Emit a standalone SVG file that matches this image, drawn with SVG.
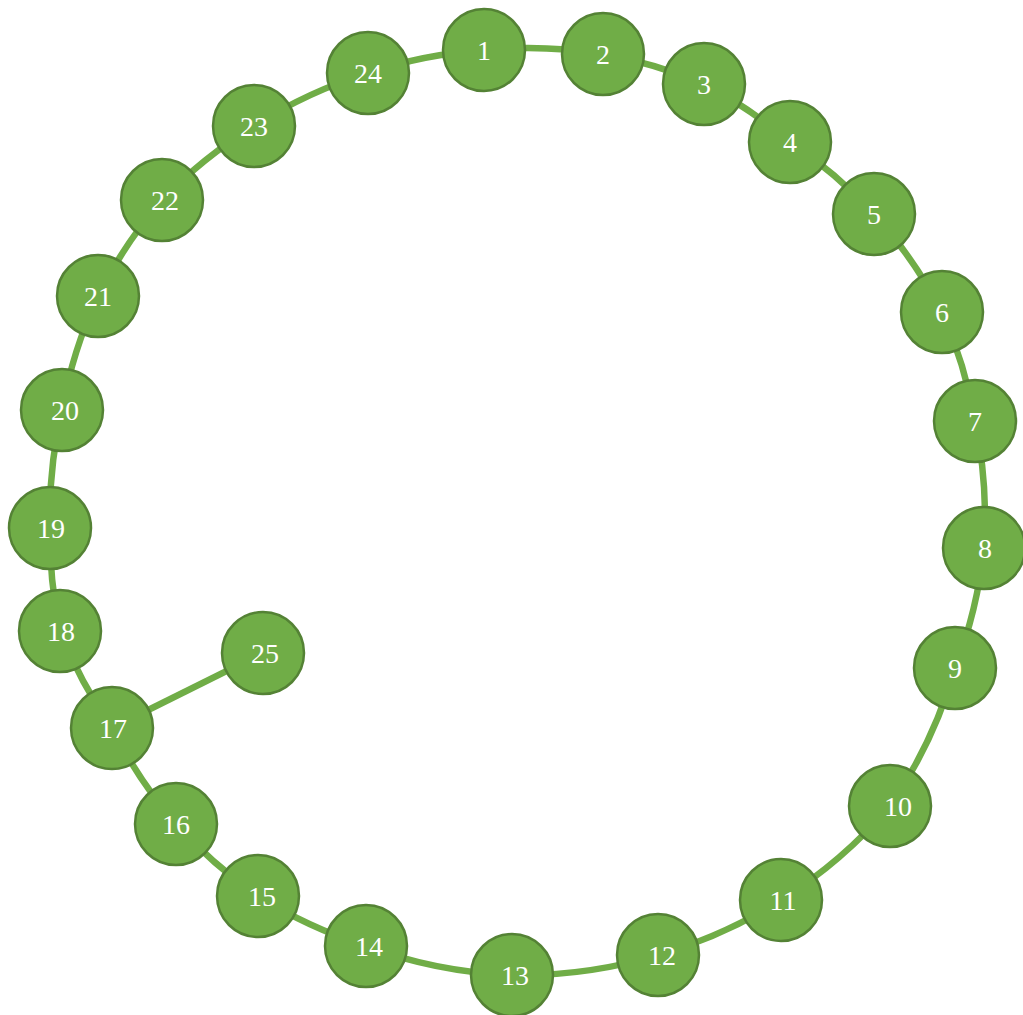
<svg xmlns="http://www.w3.org/2000/svg" width="1023" height="1015" viewBox="0 0 1023 1015">
<style>
.e{fill:none;stroke:#70AD47;stroke-width:6.5}
.n circle{fill:#70AD47;stroke:#548235;stroke-width:2.5}
.n text{fill:#fff;font-family:"Liberation Serif",serif;font-size:28px;text-anchor:middle}
</style>
<rect width="1023" height="1015" fill="#fff"/>
<g id="edges">
<path class="e" d="M484,50 A470,470 0 0 1 603,54"/>
<path class="e" d="M603,54 A470,470 0 0 1 704,84"/>
<path class="e" d="M704,84 A470,470 0 0 1 790,142"/>
<path class="e" d="M790,142 A470,470 0 0 1 874,214"/>
<path class="e" d="M874,214 A470,470 0 0 1 942,312"/>
<path class="e" d="M942,312 A470,470 0 0 1 975,421"/>
<path class="e" d="M975,421 A470,470 0 0 1 984,548"/>
<path class="e" d="M984,548 A470,470 0 0 1 955,668"/>
<path class="e" d="M955,668 A470,470 0 0 1 890,806"/>
<path class="e" d="M890,806 A470,470 0 0 1 781,900"/>
<path class="e" d="M781,900 A470,470 0 0 1 658,955"/>
<path class="e" d="M658,955 A470,470 0 0 1 512,975"/>
<path class="e" d="M512,975 A470,470 0 0 1 366,946"/>
<path class="e" d="M366,946 A470,470 0 0 1 258,896"/>
<path class="e" d="M258,896 A470,470 0 0 1 176,824"/>
<path class="e" d="M176,824 A470,470 0 0 1 112,728"/>
<path class="e" d="M112,728 A470,470 0 0 1 60,631"/>
<path class="e" d="M60,631 A470,470 0 0 1 50,528"/>
<path class="e" d="M50,528 A470,470 0 0 1 62,410"/>
<path class="e" d="M62,410 A470,470 0 0 1 98,296"/>
<path class="e" d="M98,296 A470,470 0 0 1 162,200"/>
<path class="e" d="M162,200 A470,470 0 0 1 254,126"/>
<path class="e" d="M254,126 A470,470 0 0 1 368,73"/>
<path class="e" d="M368,73 A470,470 0 0 1 484,50"/>
<path class="e" d="M112,728 L263,653"/>
</g>
<g id="n1" class="n"><circle cx="484" cy="50" r="41"/><text x="484" y="60">1</text></g>
<g id="n2" class="n"><circle cx="603" cy="54" r="41"/><text x="603" y="64">2</text></g>
<g id="n3" class="n"><circle cx="704" cy="84" r="41"/><text x="704" y="94">3</text></g>
<g id="n4" class="n"><circle cx="790" cy="142" r="41"/><text x="790" y="152">4</text></g>
<g id="n5" class="n"><circle cx="874" cy="214" r="41"/><text x="874" y="224">5</text></g>
<g id="n6" class="n"><circle cx="942" cy="312" r="41"/><text x="942" y="322">6</text></g>
<g id="n7" class="n"><circle cx="975" cy="421" r="41"/><text x="975" y="431">7</text></g>
<g id="n8" class="n"><circle cx="984" cy="548" r="41"/><text x="985" y="558">8</text></g>
<g id="n9" class="n"><circle cx="955" cy="668" r="41"/><text x="955" y="678">9</text></g>
<g id="n10" class="n"><circle cx="890" cy="806" r="41"/><text x="898" y="816">10</text></g>
<g id="n11" class="n"><circle cx="781" cy="900" r="41"/><text x="783" y="910">11</text></g>
<g id="n12" class="n"><circle cx="658" cy="955" r="41"/><text x="662" y="965">12</text></g>
<g id="n13" class="n"><circle cx="512" cy="975" r="41"/><text x="515" y="985">13</text></g>
<g id="n14" class="n"><circle cx="366" cy="946" r="41"/><text x="369" y="956">14</text></g>
<g id="n15" class="n"><circle cx="258" cy="896" r="41"/><text x="262" y="906">15</text></g>
<g id="n16" class="n"><circle cx="176" cy="824" r="41"/><text x="176" y="834">16</text></g>
<g id="n17" class="n"><circle cx="112" cy="728" r="41"/><text x="113" y="738">17</text></g>
<g id="n18" class="n"><circle cx="60" cy="631" r="41"/><text x="61" y="641">18</text></g>
<g id="n19" class="n"><circle cx="50" cy="528" r="41"/><text x="51" y="538">19</text></g>
<g id="n20" class="n"><circle cx="62" cy="410" r="41"/><text x="65" y="420">20</text></g>
<g id="n21" class="n"><circle cx="98" cy="296" r="41"/><text x="98" y="306">21</text></g>
<g id="n22" class="n"><circle cx="162" cy="200" r="41"/><text x="165" y="210">22</text></g>
<g id="n23" class="n"><circle cx="254" cy="126" r="41"/><text x="254" y="136">23</text></g>
<g id="n24" class="n"><circle cx="368" cy="73" r="41"/><text x="368" y="83">24</text></g>
<g id="n25" class="n"><circle cx="263" cy="653" r="41"/><text x="265" y="663">25</text></g>
</svg>
